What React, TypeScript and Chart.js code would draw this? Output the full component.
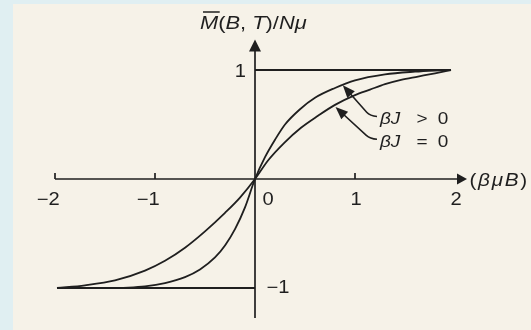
import React, { useEffect, useRef } from "react";
import { Chart, registerables } from "chart.js";

Chart.register(...registerables);

// ---- data ----
// βJ = 0 curve
const freeCurveX = [-1.98, -1.7, -1.4, -1.1, -0.9, -0.7, -0.5, -0.3, -0.15, 0, 0.13, 0.29, 0.46, 0.63, 0.8, 1.0, 1.15, 1.3, 1.46, 1.63, 1.8, 1.96];
const freeCurveY = [-1.0, -0.975, -0.93, -0.84, -0.75, -0.63, -0.48, -0.31, -0.17, 0, 0.17, 0.33, 0.47, 0.58, 0.68, 0.77, 0.82, 0.87, 0.91, 0.94, 0.97, 1.0];
// βJ > 0 curve
const coupledCurveX = [-1.35, -1.1, -0.9, -0.7, -0.55, -0.4, -0.3, -0.2, -0.1, 0, 0.1, 0.2, 0.3, 0.45, 0.6, 0.8, 1.0, 1.3, 1.6, 1.9];
const coupledCurveY = [-1.0, -0.985, -0.955, -0.9, -0.83, -0.72, -0.61, -0.46, -0.26, 0, 0.2, 0.36, 0.5, 0.64, 0.745, 0.835, 0.905, 0.96, 0.985, 1.0];
// saturation lines
const upperSatX = [0, 1.96];
const upperSatY = [1, 1];
const lowerSatX = [-1.98, 0];
const lowerSatY = [-1, -1];

const xTickValues = [-2, -1, 0, 1, 2];
const xTickLabels = ["\u22122", "\u22121", "0", "1", "2"];
const xTickMarks = [-2, -1, 1];
const yTickValues = [1, -1];
const yTickLabels = ["1", "\u22121"];

const seriesLabels = ["\u03b2J > 0", "\u03b2J = 0"];
// [text, italic]
const yTitleRuns: [string, boolean][] = [["M", true], ["(", false], ["B", true], [", ", false], ["T", true], [")/", false], ["N", true], ["\u03bc", true]];
const xTitleRuns: [string, boolean][] = [["(", false], ["\u03b2", true], ["\u03bc", true], ["B", true], [")", false]];

// annotation anchors in data units
const labelAnchors = [
  { x: 1.25, y: 0.505 },
  { x: 1.25, y: 0.296 },
];
const leaderTips = [
  { x: 0.878, y: 0.86 },
  { x: 0.805, y: 0.66 },
];

const INK = "#1f1f1f";
const FONT = "'Liberation Sans', Arial, sans-serif";

function pairs(xs: number[], ys: number[]) {
  return xs.map((x, i) => ({ x, y: ys[i] }));
}

function drawRuns(
  ctx: CanvasRenderingContext2D,
  runs: [string, boolean][],
  x: number,
  y: number,
  size: number,
  hScale: number,
  gap: number,
  align: "left" | "center" | "right",
  baseline: CanvasTextBaseline
) {
  ctx.save();
  ctx.translate(x, y);
  ctx.scale(hScale, 1);
  ctx.textAlign = "left";
  ctx.textBaseline = baseline;
  const widths = runs.map(([t, it]) => {
    ctx.font = `${it ? "italic " : ""}${size}px ${FONT}`;
    return ctx.measureText(t).width;
  });
  const total = widths.reduce((a, b) => a + b, 0) + gap * (runs.length - 1);
  let cx = align === "left" ? 0 : align === "center" ? -total / 2 : -total;
  const starts: { x: number; w: number }[] = [];
  runs.forEach(([t, it], i) => {
    ctx.font = `${it ? "italic " : ""}${size}px ${FONT}`;
    ctx.fillText(t, cx, 0);
    starts.push({ x: x + cx * hScale, w: widths[i] * hScale });
    cx += widths[i] + gap;
  });
  ctx.restore();
  return starts;
}

function arrowHead(ctx: CanvasRenderingContext2D, tipX: number, tipY: number, angle: number, len: number, half: number) {
  const bx = tipX - Math.cos(angle) * len;
  const by = tipY - Math.sin(angle) * len;
  const nx = -Math.sin(angle) * half;
  const ny = Math.cos(angle) * half;
  ctx.beginPath();
  ctx.moveTo(tipX, tipY);
  ctx.lineTo(bx + nx, by + ny);
  ctx.lineTo(bx - nx, by - ny);
  ctx.closePath();
  ctx.fill();
}

const paperPlugin = {
  id: "paper",
  beforeDraw(chart: any) {
    const { ctx, width, height } = chart;
    ctx.save();
    ctx.fillStyle = "#e0eff2";
    ctx.fillRect(0, 0, width, height);
    ctx.fillStyle = "#f6f2e8";
    ctx.fillRect(13, 4, width - 13, height - 4);
    ctx.restore();
  },
};

const axesPlugin = {
  id: "figureAxes",
  afterDatasetsDraw(chart: any) {
    const { ctx } = chart;
    const xs = chart.scales.x;
    const ys = chart.scales.y;
    const ox = xs.getPixelForValue(0);
    const oy = ys.getPixelForValue(0);
    const xLeft = xs.getPixelForValue(-2);
    const xRight = xs.getPixelForValue(2);
    const yTop = ys.getPixelForValue(1);
    const yBot = ys.getPixelForValue(-1);

    ctx.save();
    ctx.strokeStyle = INK;
    ctx.fillStyle = INK;
    ctx.lineWidth = 1.7;
    ctx.lineCap = "butt";

    // x axis
    const xTip = xRight + 12;
    ctx.beginPath();
    ctx.moveTo(xLeft, oy);
    ctx.lineTo(xTip - 6, oy);
    ctx.stroke();
    arrowHead(ctx, xTip, oy, 0, 10, 5.5);
    // x ticks
    xTickMarks.forEach((v) => {
      const px = xs.getPixelForValue(v);
      ctx.beginPath();
      ctx.moveTo(px, oy);
      ctx.lineTo(px, oy - 6);
      ctx.stroke();
    });

    // y axis
    const yTip = yTop - 30.5;
    ctx.beginPath();
    ctx.moveTo(ox, yBot + 30);
    ctx.lineTo(ox, yTip + 6);
    ctx.stroke();
    arrowHead(ctx, ox, yTip, -Math.PI / 2, 12, 6);

    // x tick labels
    const tSize = 17.5;
    const hs = 1.15;
    ctx.font = `${tSize}px ${FONT}`;
    xTickValues.forEach((v, i) => {
      const label = xTickLabels[i];
      const px = xs.getPixelForValue(v);
      const ly = oy + 21;
      if (v === 0) {
        drawRuns(ctx, [[label, false]], ox + 7.5, ly, tSize, hs, 0, "left", "middle");
      } else if (v < 0) {
        ctx.font = `${tSize}px ${FONT}`;
        const dw = ctx.measureText(label.slice(-1)).width * hs;
        drawRuns(ctx, [[label, false]], px + dw / 2 - 1, ly, tSize, hs, 0, "right", "middle");
      } else {
        drawRuns(ctx, [[label, false]], px + 1, ly, tSize, hs, 0, "center", "middle");
      }
    });

    // y tick labels
    yTickValues.forEach((v, i) => {
      const py = ys.getPixelForValue(v);
      if (v > 0) {
        drawRuns(ctx, [[yTickLabels[i], false]], ox - 9, py + 2, tSize, hs, 0, "right", "middle");
      } else {
        drawRuns(ctx, [[yTickLabels[i], false]], ox + 11.5, py, tSize, hs, 0, "left", "middle");
      }
    });

    // y axis title
    const runs = drawRuns(ctx, yTitleRuns, ox - 55, yTip - 10.5, 19, 1.15, 0, "left", "alphabetic");
    // overbar on M
    ctx.lineWidth = 1.5;
    ctx.beginPath();
    ctx.moveTo(runs[0].x + 3, yTip - 27.5);
    ctx.lineTo(runs[0].x + runs[0].w + 1.5, yTip - 27.5);
    ctx.stroke();

    // x axis title
    drawRuns(ctx, xTitleRuns, xTip + 2.5, oy + 6.5, 18, 1.15, 1.5, "left", "alphabetic");

    // series labels with leaders
    ctx.lineWidth = 1.6;
    seriesLabels.forEach((lab, i) => {
      const parts = lab.split(" ");
      const ax = xs.getPixelForValue(labelAnchors[i].x);
      const ay = ys.getPixelForValue(labelAnchors[i].y);
      const size = 16.5;
      drawRuns(ctx, [[parts[0], true]], ax, ay, size, 1.15, 0, "left", "alphabetic");
      drawRuns(ctx, [[parts[1], false]], ax + 42, ay, size, 1.15, 0, "center", "alphabetic");
      drawRuns(ctx, [[parts[2], false]], ax + 63, ay, size, 1.15, 0, "center", "alphabetic");

      const tx = xs.getPixelForValue(leaderTips[i].x);
      const ty = ys.getPixelForValue(leaderTips[i].y);
      const endX = ax - 3;
      const endY = ay - 7.5;
      const cornerX = ax - 10;
      const cornerY = endY - 0.5;
      const dx = cornerX - tx;
      const dy = cornerY - ty;
      const ang = Math.atan2(dy, dx);
      const midX = cornerX - Math.cos(ang) * 5;
      const midY = cornerY - Math.sin(ang) * 5;
      ctx.beginPath();
      ctx.moveTo(tx + Math.cos(ang) * 8, ty + Math.sin(ang) * 8);
      ctx.lineTo(midX, midY);
      ctx.quadraticCurveTo(cornerX, cornerY, endX, endY);
      ctx.stroke();
      arrowHead(ctx, tx, ty, ang + Math.PI, 12.5, 5);
    });

    ctx.restore();
  },
};

export default function App() {
  const canvasRef = useRef<HTMLCanvasElement | null>(null);

  useEffect(() => {
    const canvas = canvasRef.current;
    if (!canvas) return;
    const lineDs = (data: { x: number; y: number }[], label: string, mono: boolean) => ({
      label,
      data,
      borderColor: INK,
      borderWidth: 1.8,
      pointRadius: 0,
      fill: false,
      clip: false as any,
      cubicInterpolationMode: mono ? ("monotone" as const) : ("default" as const),
      tension: 0,
    });
    const chart = new Chart(canvas, {
      type: "line",
      data: {
        datasets: [
          lineDs(pairs(coupledCurveX, coupledCurveY), seriesLabels[0], true),
          lineDs(pairs(freeCurveX, freeCurveY), seriesLabels[1], true),
          lineDs(pairs(upperSatX, upperSatY), "saturation +1", false),
          lineDs(pairs(lowerSatX, lowerSatY), "saturation \u22121", false),
        ],
      },
      options: {
        animation: false,
        responsive: false,
        devicePixelRatio: 1,
        parsing: false as any,
        layout: { padding: { left: 55, right: 76, top: 70, bottom: 42 } },
        plugins: { legend: { display: false }, title: { display: false }, tooltip: { enabled: false } },
        events: [],
        scales: {
          x: { type: "linear", min: -2, max: 2, display: false },
          y: { type: "linear", min: -1, max: 1, display: false },
        },
      },
      plugins: [paperPlugin, axesPlugin],
    });
    return () => chart.destroy();
  }, []);

  return (
    <div style={{ position: "absolute", left: 0, top: 0, width: 531, height: 330, overflow: "hidden" }}>
      <canvas ref={canvasRef} width={531} height={330} style={{ display: "block", width: 531, height: 330 }} />
    </div>
  );
}
